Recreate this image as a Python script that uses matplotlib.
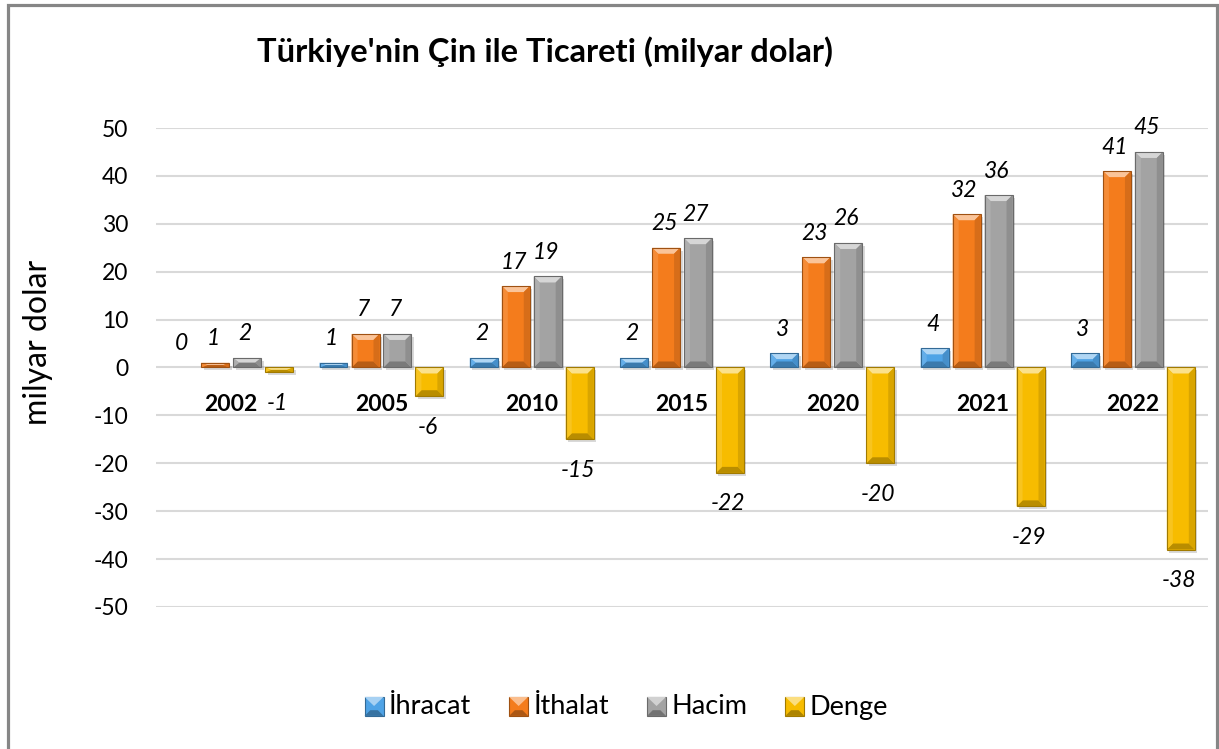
import matplotlib
matplotlib.use("Agg")
import matplotlib.pyplot as plt
import numpy as np
from matplotlib.patches import Polygon, Rectangle
from matplotlib.colors import to_rgb
import matplotlib.transforms as mtransforms
from matplotlib.legend_handler import HandlerBase
from matplotlib.container import BarContainer

years = ["2002", "2005", "2010", "2015", "2020", "2021", "2022"]
ihracat = [0, 1, 2, 2, 3, 4, 3]
ithalat = [1, 7, 17, 25, 23, 32, 41]
hacim = [2, 7, 19, 27, 26, 36, 45]
denge = [-1, -6, -15, -22, -20, -29, -38]
series_names = ["İhracat", "İthalat", "Hacim", "Denge"]
series_values = [ihracat, ithalat, hacim, denge]
colors = ["#4FA3E6", "#F47C1C", "#A3A3A3", "#F7BC00"]

FONT = ["Lato", "DejaVu Sans"]
plt.rcParams["font.family"] = FONT
plt.rcParams["axes.unicode_minus"] = False


def mix(c, other, t):
    c = np.array(to_rgb(c)); o = np.array(to_rgb(other))
    return tuple(c * (1 - t) + o * t)


fig = plt.figure(figsize=(12.19, 7.49), dpi=100)
ax = fig.add_axes([0.128, 0.1896, 0.863, 0.6395])
ax.set_xlim(-0.5, 6.5)
ax.set_ylim(-50, 50)
ax.set_yticks(np.arange(-50, 51, 10))
ax.set_xticks([])
ax.tick_params(axis="y", length=0, pad=20, labelsize=16.5)
for s in ax.spines.values():
    s.set_visible(False)
ax.grid(axis="y", color="#D9D9D9", lw=1.5)
ax.set_axisbelow(True)

x = np.arange(len(years))
offsets = [-0.319, -0.106, 0.106, 0.319]
width = 0.186

fig.canvas.draw()
p0 = ax.transData.transform((0, 0)); p1 = ax.transData.transform((1, 1))
sx = p1[0] - p0[0]; sy = p1[1] - p0[1]
shadow_tr = ax.transData + mtransforms.ScaledTranslation(2.5 / 100, -3 / 100, fig.dpi_scale_trans)


def bevel(patch, color):
    x0 = patch.get_x(); w = patch.get_width()
    y0 = patch.get_y(); h = patch.get_height()
    yb = min(y0, y0 + h); yt = max(y0, y0 + h)
    if yt - yb <= 0:
        return
    bx = min(6 / sx, w / 2)
    by = min(6 / sy, (yt - yb) / 2)
    ax.add_patch(Rectangle((x0, yb), w, yt - yb, transform=shadow_tr,
                           facecolor="#000000", alpha=0.15, lw=0, zorder=1.5))
    polys = [
        ([(x0, yt), (x0 + w, yt), (x0 + w - bx, yt - by), (x0 + bx, yt - by)], mix(color, "white", 0.55)),
        ([(x0, yb), (x0 + w, yb), (x0 + w - bx, yb + by), (x0 + bx, yb + by)], mix(color, "black", 0.25)),
        ([(x0, yb), (x0, yt), (x0 + bx, yt - by), (x0 + bx, yb + by)], mix(color, "white", 0.12)),
        ([(x0 + w, yb), (x0 + w, yt), (x0 + w - bx, yt - by), (x0 + w - bx, yb + by)], mix(color, "black", 0.12)),
    ]
    for pts, c in polys:
        ax.add_patch(Polygon(pts, closed=True, facecolor=c, lw=0, zorder=3))
    ax.add_patch(Rectangle((x0, yb), w, yt - yb, fill=False,
                           edgecolor=mix(color, "black", 0.35), lw=0.8, zorder=4))


for name, vals, off, col in zip(series_names, series_values, offsets, colors):
    bars = ax.bar(x + off, vals, width=width, color=col, zorder=2, lw=0, label=name)
    for b, v in zip(bars, vals):
        bevel(b, col)
        cx = b.get_x() + b.get_width() / 2
        if v >= 0:
            ax.annotate(f"{v}", (cx, v), xytext=(-2, 24), textcoords="offset pixels",
                        ha="center", va="center", fontsize=16.5, style="italic")
        else:
            ax.annotate(f"{v}", (cx, v), xytext=(-2, -31), textcoords="offset pixels",
                        ha="center", va="center", fontsize=16.5, style="italic")

for xi, yr in zip(x, years):
    ax.text(xi, -7.8, yr, ha="center", va="center", fontsize=16.5, fontweight="bold")

fig.text(545 / 1219, 1 - 52 / 749, "Türkiye'nin Çin ile Ticareti (milyar dolar)",
         ha="center", va="center", fontsize=23.5, fontweight="bold")
fig.text(38 / 1219, 1 - 342 / 749, "milyar dolar", rotation=90, ha="center", va="center", fontsize=23)


class BevelHandler(HandlerBase):
    def create_artists(self, legend, orig_handle, xdescent, ydescent, width, height, fontsize, trans):
        col = to_rgb(orig_handle.patches[0].get_facecolor())
        s = height * 1.0
        x0 = width - s; y0 = (height - s) / 2 - 1
        b = s * 0.3
        arts = [Rectangle((x0, y0), s, s, facecolor=col, edgecolor=mix(col, "black", 0.35), lw=0.8, transform=trans)]
        arts.append(Polygon([(x0, y0 + s), (x0 + s, y0 + s), (x0 + s / 2, y0 + s - b * 1.6)],
                            facecolor=mix(col, "white", 0.5), lw=0, transform=trans))
        arts.append(Polygon([(x0, y0), (x0 + s, y0), (x0 + s - b, y0 + b), (x0 + b, y0 + b)],
                            facecolor=mix(col, "black", 0.3), lw=0, transform=trans))
        return arts


handles, labels = ax.get_legend_handles_labels()
leg = fig.legend(handles, labels, loc="center", bbox_to_anchor=(625 / 1219, 1 - 707 / 749), ncol=4,
                 frameon=False, fontsize=19.5, handlelength=0.8, handletextpad=0.2, columnspacing=1.3,
                 handler_map={BarContainer: BevelHandler()})

fig.add_artist(Rectangle((8 / 1219, -0.02), (1217 - 8) / 1219, (749 - 5) / 749 + 0.02,
                         transform=fig.transFigure, fill=False, edgecolor="#868686", lw=2.3))

fig.savefig("out.png", dpi=100)
